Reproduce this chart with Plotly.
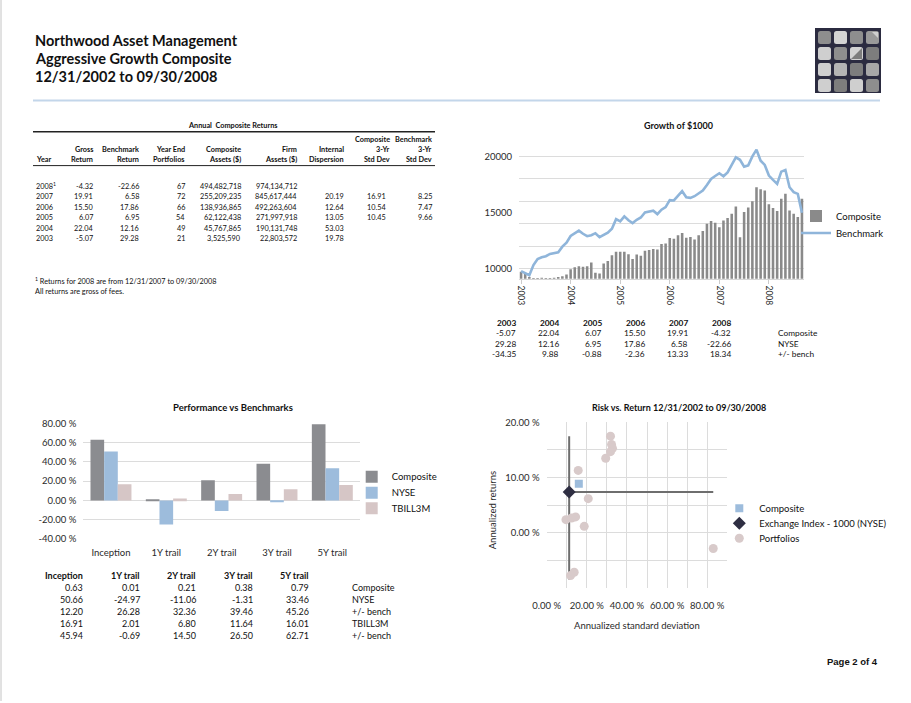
import plotly.graph_objects as go

W, H = 911, 703


def X(px):
    return px / W


def Y(py):
    return 1 - py / H


FONT = "Lato, 'Open Sans', sans-serif"
INK = "#111111"
AXC = "#2a2a2a"
GRID = "#dcdcdc"

# ------------------------------------------------------------------ data
# Annual composite returns table
ann_years = ["2008<sup>1</sup>", "2007", "2006", "2005", "2004", "2003"]
ann_gross = ["-4.32", "19.91", "15.50", "6.07", "22.04", "-5.07"]
ann_bench = ["-22.66", "6.58", "17.86", "6.95", "12.16", "29.28"]
ann_portfolios = ["67", "72", "66", "54", "49", "21"]
ann_comp_assets = ["494,482,718", "255,209,235", "138,936,865", "62,122,438", "45,767,865", "3,525,590"]
ann_firm_assets = ["974,134,712", "845,617,444", "492,263,604", "271,997,918", "190,131,748", "22,803,572"]
ann_dispersion = ["", "20.19", "12.64", "13.05", "53.03", "19.78"]
ann_comp_std = ["", "16.91", "10.54", "10.45", "", ""]
ann_bench_std = ["", "8.25", "7.47", "9.66", "", ""]

# Growth of $1000, monthly Jan 2003 .. Sep 2008
growth_composite = [
    9700, 9550, 9250, 9160, 9160, 9170, 9160, 9160, 9180, 9250, 9310, 9460,
    9940, 10120, 10210, 10150, 10210, 10540, 9610, 9550, 10450, 10660, 11190, 11490,
    11490, 11490, 11280, 10840, 11250, 11130, 11580, 11640, 11730, 11690, 12190, 12220,
    12720, 12660, 12960, 13170, 12750, 12810, 12580, 12960, 13340, 14000, 14230, 14080,
    13670, 14290, 14500, 14880, 15540, 12780, 15030, 15450, 16010, 17250, 17070, 16960,
    15740, 15390, 15120, 16220, 16660, 15180, 14880, 14590, 16220,
]
growth_benchmark = [
    9760, 9600, 9400, 10300, 10850, 11000, 11100, 11300, 11400, 11450, 11950, 12300,
    12900, 13150, 13380, 13100, 12880, 12970, 13150, 12800, 13000, 13200, 13550, 14400,
    14200, 14650, 14300, 14050, 14350, 14550, 15000, 15050, 15150, 14850, 15250, 15480,
    16100, 16070, 16510, 16900, 16360, 16300, 16450, 16700, 16960, 17450, 17990, 18250,
    18500, 18230, 18580, 19250, 19920, 19700, 19090, 19200, 20000, 20600, 19620, 19240,
    18290, 17900, 17550, 18640, 18790, 17250, 16810, 16660, 14970,
]
growth_year_labels = ["2003", "2004", "2005", "2006", "2007", "2008"]
growth_year_first_month = [0, 12, 24, 36, 48, 60]
growth_grid_vals = [10000, 12000, 14000, 16000, 18000, 20000, 22000]
growth_label_vals = [10000, 15000, 20000]
cal_composite = ["-5.07", "22.04", "6.07", "15.50", "19.91", "-4.32"]
cal_nyse = ["29.28", "12.16", "6.95", "17.86", "6.58", "-22.66"]
cal_diff = ["-34.35", "9.88", "-0.88", "-2.36", "13.33", "18.34"]

# Performance vs benchmarks
perf_periods = ["Inception", "1Y trail", "2Y trail", "3Y trail", "5Y trail"]
perf_composite = [63.0, 1.0, 21.0, 38.0, 79.0]
perf_nyse = [50.66, -24.97, -11.06, -1.31, 33.46]
perf_tbill = [16.91, 2.01, 6.80, 11.64, 16.01]
perf_ticks = [-40, -20, 0, 20, 40, 60, 80]
perf_tbl_composite = ["0.63", "0.01", "0.21", "0.38", "0.79"]
perf_tbl_nyse = ["50.66", "-24.97", "-11.06", "-1.31", "33.46"]
perf_tbl_diff_nyse = ["12.20", "26.28", "32.36", "39.46", "45.26"]
perf_tbl_tbill = ["16.91", "2.01", "6.80", "11.64", "16.01"]
perf_tbl_diff_tbill = ["45.94", "-0.69", "14.50", "26.50", "62.71"]

# Risk vs return
rr_comp_sd = [16.0]
rr_comp_ret = [8.9]
rr_index_sd = [11.2]
rr_index_ret = [7.4]
rr_port_sd = [31.8, 32.3, 32.8, 31.8, 29.4, 15.7, 20.7, 9.6, 12.4, 14.4, 18.7, 83.0, 11.9, 13.7]
rr_port_ret = [17.5, 16.0, 15.3, 14.7, 13.5, 11.3, 6.2, 2.4, 2.7, 2.9, 1.2, -2.8, -7.7, -7.1]
rr_range_ret_high = 17.5
rr_range_ret_low = -8.4
rr_range_sd_high = 83.0
rr_x_labelled = [0, 20, 40, 60, 80]
rr_x_minor = [10, 30, 50, 70, 90]
rr_y_labelled = [0, 10, 20]
rr_y_minor = [-5, 5, 15]

# ------------------------------------------------------------------ figure
fig = go.Figure()

months = list(range(len(growth_composite)))
fig.add_trace(go.Bar(
    x=months, y=growth_composite, name="Composite", width=0.62,
    marker=dict(color="#8a8a8a", line_width=0),
    xaxis="x", yaxis="y", legend="legend"))
fig.add_trace(go.Scatter(
    x=months, y=growth_benchmark, mode="lines", name="Benchmark",
    line=dict(color="#8fb5da", width=2.6),
    xaxis="x", yaxis="y4", legend="legend2"))

for name, vals, col, lg in [
    ("Composite", perf_composite, "#8b8c90", "legend3"),
    ("NYSE", perf_nyse, "#9dbcdc", "legend4"),
    ("TBILL3M", perf_tbill, "#d6c6c6", "legend5"),
]:
    fig.add_trace(go.Bar(x=perf_periods, y=vals, name=name,
                         marker=dict(color=col, line_width=0),
                         xaxis="x2", yaxis="y2", legend=lg))

fig.add_trace(go.Scatter(
    x=rr_index_sd, y=rr_index_ret, mode="markers",
    name="Exchange Index - 1000 (NYSE)", legendrank=2,
    marker=dict(symbol="diamond", size=10, color="#2e2e42"),
    error_x=dict(type="data", symmetric=False,
                 array=[rr_range_sd_high - rr_index_sd[0]], arrayminus=[0],
                 color="#6e6e6e", thickness=2, width=0),
    error_y=dict(type="data", symmetric=False,
                 array=[rr_range_ret_high - rr_index_ret[0]],
                 arrayminus=[rr_index_ret[0] - rr_range_ret_low],
                 color="#6e6e6e", thickness=2, width=0),
    xaxis="x3", yaxis="y3", legend="legend7"))
fig.add_trace(go.Scatter(
    x=rr_port_sd, y=rr_port_ret, mode="markers", name="Portfolios", legendrank=3,
    marker=dict(symbol="circle", size=9, color="#d8caca"),
    xaxis="x3", yaxis="y3", legend="legend8"))
fig.add_trace(go.Scatter(
    x=rr_comp_sd, y=rr_comp_ret, mode="markers", name="Composite", legendrank=1,
    marker=dict(symbol="square", size=8, color="#9dbcdc"),
    xaxis="x3", yaxis="y3", legend="legend6"))


def leg(text_left, ypx):
    return dict(x=X(text_left - 40), y=Y(ypx), xanchor="left", yanchor="middle",
                bgcolor="rgba(0,0,0,0)", borderwidth=0,
                font=dict(family=FONT, size=9.5, color=INK))


def pct(v):
    return f"{v:.2f} %"


fig.update_layout(
    width=W, height=H, margin=dict(l=0, r=0, t=0, b=0, pad=0, autoexpand=False),
    paper_bgcolor="white", plot_bgcolor="rgba(0,0,0,0)",
    font=dict(family=FONT, size=9.5, color=AXC),
    barmode="group", bargap=0.26, bargroupgap=0,
    showlegend=True, hovermode=False,
    # growth of $1000
    xaxis=dict(domain=[X(519), X(804)], range=[-0.5, len(months) - 0.5], anchor="y",
               tickvals=growth_year_first_month, ticktext=growth_year_labels,
               tickangle=90, ticks="outside", ticklen=4, tickcolor="#cccccc",
               showgrid=False, zeroline=False, showline=True, linecolor="#d6d6d6",
               tickfont=dict(size=8.5, color=AXC)),
    yaxis=dict(domain=[Y(278.8), Y(134)], range=[9080, 22000], anchor="x",
               tickvals=growth_grid_vals, showticklabels=False,
               showgrid=True, gridcolor=GRID, zeroline=False),
    yaxis4=dict(overlaying="y", anchor="x", range=[9080, 22000],
                tickvals=growth_label_vals, ticktext=[str(v) for v in growth_label_vals],
                showgrid=False, zeroline=False, ticklabelstandoff=6,
                tickfont=dict(size=9.5, color=AXC)),
    # performance vs benchmarks
    xaxis2=dict(domain=[X(83.3), X(360)], anchor="y2", showgrid=False, zeroline=False,
                ticklabelstandoff=6, tickfont=dict(size=9.5, color=AXC)),
    yaxis2=dict(domain=[Y(539), Y(423.3)], range=[-40, 80], anchor="x2",
                tickvals=perf_ticks, ticktext=[pct(v) for v in perf_ticks],
                showgrid=True, gridcolor=GRID, zeroline=False, ticklabelstandoff=6,
                tickfont=dict(size=9.5, color=AXC)),
    # risk vs return
    xaxis3=dict(domain=[X(546.7), X(727.3)], range=[0, 90], anchor="y3",
                tickvals=rr_x_labelled, ticktext=[pct(v) for v in rr_x_labelled],
                minor=dict(tickvals=rr_x_minor, showgrid=True, gridcolor=GRID, ticks=""),
                showgrid=True, gridcolor=GRID, zeroline=False, ticklabelstandoff=10,
                tickfont=dict(size=9.5, color=AXC)),
    yaxis3=dict(domain=[Y(588.3), Y(422.3)], range=[-10, 20], anchor="x3",
                tickvals=rr_y_labelled, ticktext=[pct(v) for v in rr_y_labelled],
                minor=dict(tickvals=rr_y_minor, showgrid=True, gridcolor=GRID, ticks=""),
                showgrid=True, gridcolor=GRID, zeroline=False, ticklabelstandoff=6,
                tickfont=dict(size=9.5, color=AXC)),
    legend=leg(836, 216), legend2=leg(836, 233),
    legend3=leg(391.7, 476.7), legend4=leg(391.7, 492.7), legend5=leg(391.7, 508.3),
    legend6=leg(759.3, 508.3), legend7=leg(759.3, 523.3), legend8=leg(759.3, 538.3),
)

# ------------------------------------------------------------------ text
ann = []


def txt(xpx, ypx, s, align="left", size=9, bold=False, color=INK, family=FONT, angle=0):
    ann.append(dict(
        x=X(xpx), y=Y(ypx), xref="paper", yref="paper", showarrow=False,
        text=f"<b>{s}</b>" if bold else s, xanchor=align, yanchor="middle",
        textangle=angle, font=dict(family=family, size=size, color=color)))


# page header
txt(33, 41, "Northwood Asset Management", size=14.5, bold=True)
txt(33, 58.5, "Aggressive Growth Composite", size=14.5, bold=True)
txt(33, 76, "12/31/2002 to 09/30/2008", size=14.5, bold=True)
txt(880, 661, "Page 2 of 4", align="right", size=9.5, bold=True, family="'Liberation Sans', Arial, sans-serif")

# annual returns table
TS = 7.3
txt(233, 125, "Annual  Composite Returns", align="center", size=TS, bold=True)
col_r = [95, 141, 186.7, 243.3, 299.3, 345.7, 391.7, 434]
txt(391.7, 140, "Composite", align="right", size=TS, bold=True)
txt(434, 140, "Benchmark", align="right", size=TS, bold=True)
for c, s in zip(col_r, ["Gross", "Benchmark", "Year End", "Composite", "Firm", "Internal", "3-Yr", "3-Yr"]):
    txt(c, 149.6, s, align="right", size=TS, bold=True)
txt(34, 159.6, "Year", size=TS, bold=True)
for c, s in zip(col_r, ["Return", "Return", "Portfolios", "Assets ($)", "Assets ($)", "Dispersion", "Std Dev", "Std Dev"]):
    txt(c, 159.6, s, align="right", size=TS, bold=True)
row_y = [186.5, 196.9, 207.3, 217.7, 228.1, 238.5]
data_cols = [ann_gross, ann_bench, ann_portfolios, ann_comp_assets, ann_firm_assets,
             ann_dispersion, ann_comp_std, ann_bench_std]
data_r = [95, 141, 186.7, 243.3, 299.3, 345.7, 387.5, 434]
for i, yy in enumerate(row_y):
    txt(34, yy, ann_years[i], size=TS)
    for c, col in zip(data_r, data_cols):
        if col[i]:
            txt(c, yy, col[i], align="right", size=TS)
txt(33, 281.5, "<sup>1</sup> Returns for 2008 are from 12/31/2007 to 09/30/2008", size=TS)
txt(33, 292, "All returns are gross of fees.", size=TS)

# growth chart title + calendar table
txt(678, 126, "Growth of $1000", align="center", size=9, bold=True)
g_cols = [517.7, 561, 604, 646.7, 690, 733]
g_rows = [322.7, 333.2, 343.7, 354.3]
GS = 8.3
for c, yl, a, b, d in zip(g_cols, growth_year_labels, cal_composite, cal_nyse, cal_diff):
    txt(c, g_rows[0], yl, align="right", size=GS, bold=True)
    txt(c, g_rows[1], a, align="right", size=GS)
    txt(c, g_rows[2], b, align="right", size=GS)
    txt(c, g_rows[3], d, align="right", size=GS)
for yy, s in zip(g_rows[1:], ["Composite", "NYSE", "+/- bench"]):
    txt(775.7, yy, s, size=GS)

# performance chart title + table
txt(233, 407.5, "Performance vs Benchmarks", align="center", size=9.5, bold=True)
p_cols = [85, 141.7, 198.3, 255, 311]
p_rows = [575, 587, 599.2, 611.4, 623.6, 635.8]
PS = 9
rows = [perf_tbl_composite, perf_tbl_nyse, perf_tbl_diff_nyse, perf_tbl_tbill, perf_tbl_diff_tbill]
labels = ["Composite", "NYSE", "+/- bench", "TBILL3M", "+/- bench"]
for j, c in enumerate(p_cols):
    txt(c, p_rows[0], perf_periods[j], align="right", size=PS, bold=True)
    for k, r in enumerate(rows):
        txt(c, p_rows[k + 1], r[j], align="right", size=PS)
for k, s in enumerate(labels):
    txt(350, p_rows[k + 1], s, size=PS)

# risk vs return titles
txt(679, 407.7, "Risk vs. Return 12/31/2002 to 09/30/2008", align="center", size=9, bold=True)
txt(492.3, 510, "Annualized returns", align="center", size=9.5, color=AXC, angle=-90)
txt(637.3, 625.7, "Annualized standard deviation", align="center", size=9.5, color=AXC)

# ------------------------------------------------------------------ shapes
shapes = []


def hline(x0, x1, ypx, w, col):
    shapes.append(dict(type="line", xref="paper", yref="paper",
                       x0=X(x0), x1=X(x1), y0=Y(ypx), y1=Y(ypx),
                       line=dict(color=col, width=w)))


hline(33, 435, 131.7, 1.6, "#222222")
hline(33, 435, 165.6, 1.0, "#222222")
hline(33, 880, 100.5, 2, "#c3d6ea")
shapes.append(dict(type="line", xref="paper", yref="paper", x0=X(1), x1=X(1), y0=Y(0), y1=Y(701),
                   line=dict(color="#c4c4c4", width=1)))


def rrect(x0, y0, x1, y1, r, col):
    p = (f"M{X(x0 + r)},{Y(y0)} L{X(x1 - r)},{Y(y0)} Q{X(x1)},{Y(y0)} {X(x1)},{Y(y0 + r)} "
         f"L{X(x1)},{Y(y1 - r)} Q{X(x1)},{Y(y1)} {X(x1 - r)},{Y(y1)} "
         f"L{X(x0 + r)},{Y(y1)} Q{X(x0)},{Y(y1)} {X(x0)},{Y(y1 - r)} "
         f"L{X(x0)},{Y(y0 + r)} Q{X(x0)},{Y(y0)} {X(x0 + r)},{Y(y0)} Z")
    shapes.append(dict(type="path", xref="paper", yref="paper", path=p,
                       fillcolor=col, line=dict(width=0)))


# logo
shapes.append(dict(type="rect", xref="paper", yref="paper", x0=X(815), x1=X(881), y0=Y(93), y1=Y(28),
                   fillcolor="#2b2b40", line=dict(width=0)))
tile_cols = [
    ["#8e8e8e", "#d4d4d4", "#8e8e8e", "#9a9a9a"],
    ["#cfcfcf", "#8e8e8e", "#d2d2d2", "#7d7d7d"],
    ["#cfcfcf", "#b5b5b5", "#7d7d7d", "#a8a8a8"],
    ["#cfcfcf", "#7d7d7d", "#cfcfcf", "#8e8e8e"],
]
for r_i in range(4):
    for c_i in range(4):
        x0 = 818 + 16 * c_i
        y0 = 31 + 16 * r_i
        rrect(x0, y0, x0 + 13, y0 + 13, 2.5, tile_cols[r_i][c_i])
# diagonal highlights on two tiles
for (c_i, r_i, col) in [(3, 0, "#d0d0d0"), (2, 1, "#7d7d7d")]:
    x0 = 818 + 16 * c_i
    y0 = 31 + 16 * r_i
    shapes.append(dict(type="path", xref="paper", yref="paper",
                       path=f"M{X(x0 + 12)},{Y(y0 + 1)} L{X(x0 + 12)},{Y(y0 + 12)} L{X(x0 + 1)},{Y(y0 + 12)} Z"
                       if r_i == 1 else
                       f"M{X(x0 + 12)},{Y(y0 + 1)} L{X(x0 + 12)},{Y(y0 + 7)} L{X(x0 + 6)},{Y(y0 + 1)} Z",
                       fillcolor=col, line=dict(width=0)))

fig.update_layout(annotations=ann, shapes=shapes)
fig.write_html(
    "out.html",
    config={"displayModeBar": False},
    post_script="document.body.style.margin='0px';document.body.style.padding='0px';"
                "document.documentElement.style.overflow='hidden';",
)
